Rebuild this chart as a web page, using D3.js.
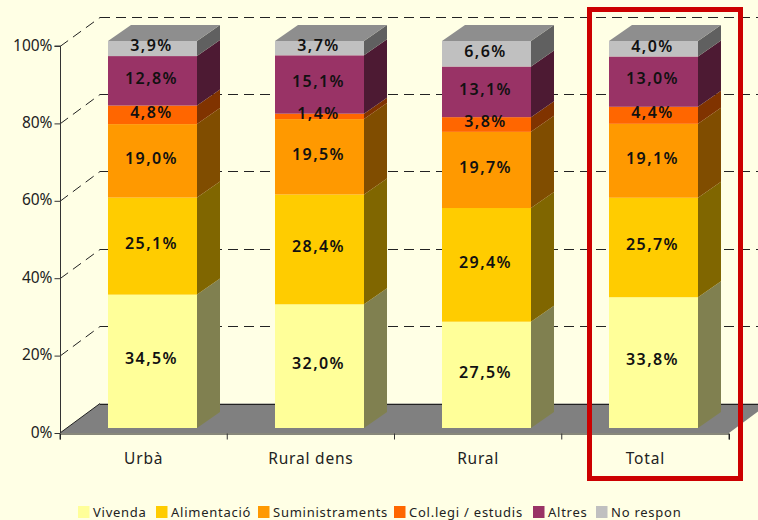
<!DOCTYPE html>
<html><head><meta charset="utf-8">
<script src="https://cdn.jsdelivr.net/npm/d3@7"></script>
<style>
html,body{margin:0;padding:0;background:#FFFFE5;overflow:hidden}
svg{display:block}
text{font-family:"Noto Sans",sans-serif;fill:#111}
</style></head><body>
<svg id="c" width="758" height="520"></svg>
<script>
const categories = ["Urbà","Rural dens","Rural","Total"];
const seriesNames = ["Vivenda","Alimentació","Suministraments","Col.legi / estudis","Altres","No respon"];
const vivenda = [34.5,32.0,27.5,33.8];
const alimentacio = [25.1,28.4,29.4,25.7];
const suministraments = [19.0,19.5,19.7,19.1];
const collegi = [4.8,1.4,3.8,4.4];
const altres = [12.8,15.1,13.1,13.0];
const noRespon = [3.9,3.7,6.6,4.0];
const yTicks = [0,0.2,0.4,0.6,0.8,1];
const colors = ["#FFFF99","#FFCC00","#FF9900","#FF6600","#993366","#C0C0C0"];
const sideColors = ["#808050","#806600","#804D00","#803300","#4D1A33","#606060"];
const legendX = [78,156,258,394,533,596];

const allSeries = [vivenda,alimentacio,suministraments,collegi,altres,noRespon];
const rows = categories.map((c,i)=>{const o={cat:c};seriesNames.forEach((s,j)=>o[s]=allSeries[j][i]);return o;});
const stack = d3.stack().keys(seriesNames).offset(d3.stackOffsetExpand)(rows);

const svg = d3.select("#c");
const x = d3.scaleBand().domain(categories).range([60,729]);
const y = d3.scaleLinear().domain([0,1]).range([433,46]);
const wallDx=40, wallDy=-29.5;      // depth of the chart box
const barOffX=8.5, barOffY=-5;      // bar position inside the depth
const bdx=23, bdy=-16;              // bar depth
const barW=89;

// floor
const x0=x.range()[0], x1=x.range()[1];
svg.append("path")
  .attr("d",`M${x0},${y(0)}L${x0+wallDx},${y(0)+wallDy}L${x1+wallDx},${y(0)+wallDy}L${x1},${y(0)}Z`)
  .attr("fill","#808080");

// grid
const grid = svg.append("g").attr("fill","none").attr("stroke","#222").attr("stroke-width",1).attr("stroke-dasharray","10,6");
yTicks.forEach(t=>{
  if(t>0){
    grid.append("path").attr("d",`M${x0},${y(t)+.5}L${x0+wallDx},${Math.round(y(t)+wallDy)+.5}`);
  }
  grid.append("path").attr("d",`M${x0+wallDx},${Math.round(y(t)+wallDy)+.5}L${x1+wallDx},${Math.round(y(t)+wallDy)+.5}`);
});
svg.append("path").attr("d",`M${x0},${y(0)}L${x0+wallDx},${y(0)+wallDy}M${x0+wallDx},${Math.round(y(0)+wallDy)+.5}H${x1+wallDx}`).attr("stroke","#222").attr("fill","none");

// axes
const gy = svg.append("g").attr("transform",`translate(${x0+.5},0)`)
  .call(d3.axisLeft(y).tickValues(yTicks).tickFormat(d3.format(".0%")).tickSize(6).tickPadding(2));
gy.selectAll("path,line").attr("stroke","#333");
gy.selectAll("text").style("font-size","15.5px").style("fill","#222").attr("dy","0.26em");
gy.select(".domain").attr("d",`M0,${y(0)}V${y(1)}M-6,${y(1)}H0`);

const gx = svg.append("g").attr("transform",`translate(0,${y(0)+.5})`)
  .call(d3.axisBottom(x).tickSize(6).tickSizeOuter(6).tickPadding(13));
gx.selectAll(".tick line").remove();
gx.select(".domain").attr("stroke","#111");
gx.selectAll("text").style("font-size","15.5px").style("letter-spacing","0.8px").style("fill","#222");
d3.range(categories.length+1).forEach(i=>{
  const px = x0 + i*x.bandwidth();
  gx.append("line").attr("x1",px).attr("x2",px).attr("y1",0).attr("y2",6).attr("stroke","#333");
});

// bars
const barX = c => Math.round(x(c)+(x.bandwidth()-barW)/2+barOffX);
const yb = v => y(v)+barOffY;
stack.forEach((s,j)=>{
  const g = svg.append("g");
  s.forEach(d=>{
    const c=d.data.cat, L=barX(c), R=L+barW, T=yb(d[1]), B=yb(d[0]);
    g.append("rect").attr("x",L).attr("y",T).attr("width",barW).attr("height",B-T).attr("fill",colors[j]);
    g.append("path").attr("d",`M${R},${B}L${R+bdx},${B+bdy}L${R+bdx},${T+bdy}L${R},${T}Z`).attr("fill",sideColors[j]);
    if(j===stack.length-1){
      g.append("path").attr("d",`M${L},${T}L${L+bdx},${T+bdy}L${R+bdx},${T+bdy}L${R},${T}Z`).attr("fill","#8E8E8E");
    }
  });
});

// labels
const fmt = v => v.toFixed(1).replace(".",",")+"%";
stack.forEach((s,j)=>{
  s.forEach((d,i)=>{
    svg.append("text").attr("x",barX(d.data.cat)+barW/2-1).attr("y",yb((d[0]+d[1])/2)-3)
      .attr("dy","0.36em").attr("text-anchor","middle")
      .style("font-size","16px").style("font-weight","600").style("letter-spacing","1.4px")
      .style("fill","#111")
      .text(fmt(allSeries[j][i]));
  });
});

// legend
seriesNames.forEach((n,j)=>{
  svg.append("rect").attr("x",legendX[j]).attr("y",506).attr("width",11.5).attr("height",12).attr("fill",colors[j]);
  svg.append("text").attr("x",legendX[j]+15).attr("y",517)
    .style("font-size","13px").style("letter-spacing","0.75px").style("fill","#222").text(n);
});

// highlight
svg.append("rect").attr("x",589.5).attr("y",9.5).attr("width",151).attr("height",469)
  .attr("fill","none").attr("stroke","#CC0000").attr("stroke-width",5);
</script>
</body></html>
